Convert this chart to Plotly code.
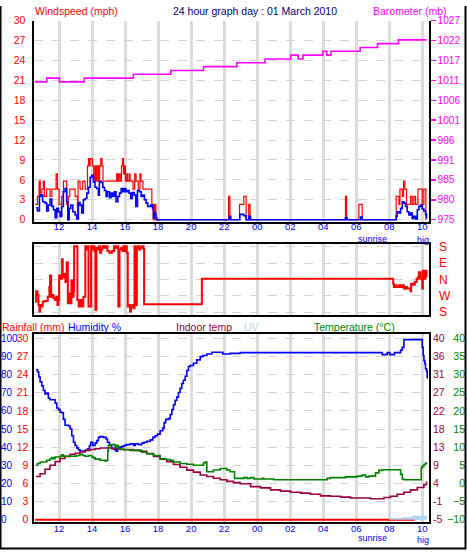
import plotly.graph_objects as go

W, H = 467, 559

# ---------------- data ----------------
hour_ticks = [12, 14, 16, 18, 20, 22, 24, 26, 28, 30, 32, 34]
hour_labels = ["12", "14", "16", "18", "20", "22", "00", "02", "04", "06", "08", "10"]

wind_ticks = [0, 3, 6, 9, 12, 15, 18, 21, 24, 27, 30]
baro_ticks = [975, 980.2, 985.4, 990.6, 995.8, 1001, 1006.2, 1011.4, 1016.6, 1021.8, 1027]
baro_labels = ["975", "980", "985", "991", "996", "1001", "1006", "1011", "1017", "1022", "1027"]
dir_ticks = [0, 90, 180, 270, 360]
dir_labels = ["S", "W", "N", "E", "S"]
rain_ticks = [0, 3, 6, 9, 12, 15, 18, 21, 24, 27, 30]
hum_ticks = [0, 10, 20, 30, 40, 50, 60, 70, 80, 90, 100]
indoor_ticks = [-5, -0.5, 4, 8.5, 13, 17.5, 22, 26.5, 31, 35.5, 40]
indoor_labels = ["-5", "-1", "4", "9", "13", "18", "22", "27", "31", "36", "40"]
temp_ticks = [-10, -5, 0, 5, 10, 15, 20, 25, 30, 35, 40]

# wind gust (mph)
gust_h = [10.55, 10.69, 10.79, 10.86, 10.95, 11.05, 11.11, 11.25, 11.45, 11.56, 11.82, 11.90, 12.00, 12.16,
          12.26, 12.46, 12.52, 12.57, 12.65, 12.97, 13.11, 13.15, 13.27, 13.43, 13.58, 13.72, 13.78, 13.84,
          13.88, 14.02, 14.10, 14.18, 14.24, 14.30, 14.38, 14.46, 14.52, 14.60, 14.66, 15.49, 15.55, 15.62,
          15.70, 15.78, 15.84, 15.90, 15.96, 16.02, 16.10, 16.14, 16.24, 16.30, 16.48, 16.58, 16.66, 16.80,
          16.90, 16.96, 17.08, 17.62, 17.70, 17.72, 17.78, 17.80, 17.86, 22.27, 22.35, 22.93, 23.19, 23.33,
          23.49, 23.57, 29.35, 29.42, 30.16, 30.36, 32.42, 32.59, 32.65, 32.79, 32.87, 32.95, 33.05, 33.30,
          33.40, 33.50, 33.60, 33.74, 34.00, 34.10, 34.22, 34.26]
gust_v = [2.3, 3.5, 5.8, 3.5, 4.6, 5.8, 3.5, 4.6, 3.5, 4.6, 6.9, 4.6, 2.3, 3.5,
          5.8, 2.3, 0.0, 3.5, 4.6, 3.5, 0.3, 5.8, 4.6, 5.8, 4.6, 8.1, 9.2, 8.1,
          9.2, 8.1, 5.8, 8.1, 5.8, 8.1, 5.8, 8.1, 9.2, 8.1, 5.8, 6.9, 5.8, 6.9,
          5.8, 8.1, 9.2, 6.9, 8.1, 5.8, 6.9, 5.8, 6.9, 5.8, 4.6, 6.9, 5.8, 4.6,
          6.9, 5.8, 4.6, 2.3, 0.0, 2.3, 0.0, 2.3, 0.0, 3.5, 0.0, 2.3, 3.5, 0.0,
          2.3, 0.0, 3.5, 0.0, 2.3, 0.0, 3.5, 2.3, 4.6, 3.5, 5.8, 4.6, 2.3, 3.5,
          2.3, 3.5, 2.3, 4.6, 2.3, 4.6, 0.0, 0.0]

# average wind speed (mph)
avg_h = [10.61, 10.69, 10.81, 10.89, 11.01, 11.15, 11.25, 11.35, 11.45, 11.56, 11.66, 11.76, 11.86, 11.96,
         12.06, 12.16, 12.26, 12.36, 12.46, 12.53, 12.61, 12.71, 12.83, 12.97, 13.07, 13.17, 13.27, 13.37,
         13.47, 13.58, 13.68, 13.78, 13.88, 13.98, 14.08, 14.18, 14.28, 14.38, 14.44, 14.55, 14.65, 14.75,
         14.85, 14.93, 15.05, 15.15, 15.25, 15.35, 15.45, 15.56, 15.66, 15.76, 15.86, 15.94, 16.04, 16.14,
         16.24, 16.34, 16.44, 16.55, 16.65, 16.75, 16.87, 16.97, 17.07, 17.17, 17.27, 17.37, 17.47, 17.56,
         17.66, 17.72, 17.78, 17.86, 17.92, 22.26, 22.32, 22.40, 22.95, 23.19, 23.33, 23.49, 23.60, 29.35,
         29.45, 30.26, 30.36, 32.42, 32.48, 32.59, 32.69, 32.79, 32.89, 32.99, 33.09, 33.19, 33.29, 33.39,
         33.49, 33.60, 33.70, 33.80, 33.90, 34.00, 34.10, 34.20, 34.26]
avg_v = [1.8, 1.3, 3.5, 3.7, 2.7, 2.5, 1.3, 2.2, 3.1, 2.0, 1.5, 0.3, 1.7, 1.2,
         0.5, 2.0, 4.2, 4.7, 2.7, 0.0, 1.7, 2.2, 1.2, 0.7, 0.1, 2.6, 2.2, 1.0,
         3.0, 3.2, 4.0, 4.9, 6.4, 6.7, 5.7, 4.9, 4.7, 3.7, 5.8, 5.6, 4.9, 4.4,
         3.5, 4.2, 3.3, 4.0, 3.5, 4.2, 2.7, 3.5, 4.0, 4.7, 4.2, 4.7, 4.2, 4.4,
         4.0, 3.2, 4.1, 3.7, 2.0, 4.4, 4.2, 3.5, 3.7, 3.0, 2.5, 2.0, 2.0, 2.2,
         1.7, 0.3, 1.0, 0.3, 0.0, 0.0, 0.5, 0.0, 0.8, 0.6, 0.0, 0.5, 0.0, 0.3,
         0.0, 0.4, 0.0, 0.5, 1.2, 1.0, 1.7, 2.7, 2.5, 2.0, 1.2, 0.7, 1.0, 0.2,
         0.5, 0.1, 1.5, 2.0, 2.2, 1.6, 1.3, 0.8, 0.2]

# barometer (mb)
baro_h = [10.55, 11.25, 12.02, 13.53, 16.5, 18.77, 20.75, 22.77, 24.48, 26.04, 26.48, 26.77, 27.98, 28.22,
          28.47, 30.24, 31.29, 32.56, 34.26]
baro_v = [1011, 1012, 1011, 1012, 1013, 1014, 1015, 1016, 1017, 1018, 1017, 1018, 1019, 1018,
          1019, 1020, 1021, 1022, 1022]

# wind direction (0 = S bottom, 90 = W, 180 = N, 270 = E, 360 = S top)
dir_h = [10.55, 10.61, 10.69, 10.75, 10.81, 10.85, 10.91, 11.01, 11.11, 11.21,
         11.31, 11.41, 11.45, 11.52, 11.60, 11.66, 11.76, 11.82, 11.90, 11.96,
         12.00, 12.06, 12.12, 12.18, 12.22, 12.30, 12.38, 12.46, 12.53, 12.59,
         12.67, 12.75, 12.83, 12.87, 12.91, 13.03, 13.11, 13.19, 13.27, 13.37,
         13.47, 13.59, 13.68, 13.72, 13.78, 13.88, 13.94, 14.00, 14.08, 14.14,
         14.20, 14.26, 14.34, 14.42, 14.48, 14.55, 14.63, 14.73, 14.85, 14.93,
         15.05, 15.21, 15.33, 15.45, 15.49, 15.59, 15.66, 15.76, 15.84, 15.90,
         15.98, 16.06, 16.10, 16.16, 16.22, 16.30, 16.36, 16.44, 16.51, 16.57,
         16.63, 16.71, 16.77, 16.85, 16.91, 17.01, 17.11, 17.15, 20.65, 32.18,
         32.24, 32.28, 32.32, 32.44, 32.59, 32.69, 32.79, 32.89, 32.99, 33.09,
         33.29, 33.33, 33.45, 33.55, 33.66, 33.74, 33.80, 33.90, 34.00, 34.04,
         34.10, 34.16, 34.20, 34.26]
dir_v = [58, 115, 94, 40, 4, 40, 31, 58, 61, 61,
         85, 139, 202, 85, 94, 76, 67, 85, 40, 67,
         202, 193, 184, 292, 193, 211, 166, 274, 49, 103,
         49, 175, 85, 112, 364, 364, 67, 31, 67, 31,
         85, 364, 346, 364, 31, 31, 364, 346, 364, 337,
         13, 355, 346, 364, 328, 346, 364, 355, 364, 337,
         328, 337, 364, 355, 364, 31, 346, 355, 337, 364,
         337, 364, 328, 31, 40, 4, 31, 40, 22, 364,
         40, 355, 364, 346, 355, 364, 349, 43, 184, 184,
         157, 139, 148, 139, 148, 139, 148, 130, 139, 130,
         115, 157, 151, 166, 184, 193, 220, 184, 130, 229,
         220, 184, 229, 193]

# humidity (%)
hum_h = [10.61, 10.69, 10.77, 10.85, 10.95, 11.05, 11.15, 11.25, 11.35, 11.45, 11.66, 11.76, 11.86, 11.96,
         12.06, 12.16, 12.26, 12.36, 12.57, 12.67, 12.77, 12.87, 12.97, 13.07, 13.17, 13.27, 13.43, 13.58,
         13.72, 13.84, 13.92, 14.04, 14.18, 14.28, 14.38, 14.48, 14.69, 14.85, 14.93, 15.05, 15.19, 15.35,
         15.45, 15.54, 15.66, 15.80, 15.94, 16.06, 16.30, 16.51, 16.61, 16.81, 17.01, 17.15, 17.31, 17.52,
         17.68, 17.82, 17.96, 18.12, 18.28, 18.36, 18.46, 18.63, 18.73, 18.83, 18.93, 19.03, 19.13, 19.23,
         19.33, 19.43, 19.53, 19.64, 19.74, 19.84, 19.94, 20.14, 20.34, 20.55, 20.71, 20.95, 21.25, 21.76,
         21.92, 22.36, 22.97, 31.58, 31.88, 32.04, 32.32, 32.69, 32.79, 32.89, 33.94, 34.00, 34.06, 34.10,
         34.16, 34.20, 34.26, 34.30]
hum_v = [82.7, 81.4, 78.7, 76.0, 73.7, 71.2, 69.4, 69.8, 67.0, 66.1, 66.1, 64.3, 61.6, 60.7,
         59.3, 59.0, 55.3, 52.1, 51.7, 50.0, 46.3, 42.7, 40.9, 39.6, 38.6, 37.8, 37.8, 38.2,
         39.1, 40.9, 42.7, 40.9, 42.2, 43.6, 45.4, 45.8, 45.4, 44.5, 42.7, 40.9, 39.1, 38.6,
         37.8, 39.1, 40.0, 40.4, 40.9, 41.4, 41.8, 40.9, 41.8, 41.4, 42.2, 42.7, 43.2, 44.0,
         45.4, 46.3, 47.2, 49.0, 50.5, 53.5, 55.3, 55.7, 58.0, 60.7, 63.4, 65.8, 67.6, 70.1,
         72.4, 75.1, 76.9, 79.1, 82.3, 84.5, 85.0, 86.3, 88.1, 89.9, 90.5, 91.4, 92.3, 92.3,
         91.4, 91.7, 92.1, 91.0, 92.1, 91.0, 92.1, 93.5, 95.0, 99.3, 99.3, 95.0, 90.5, 87.7,
         86.0, 83.2, 82.0, 77.8]

# outdoor temperature (degC)
temp_h = [10.61, 10.69, 10.85, 11.25, 11.45, 11.56, 11.66, 11.76, 12.06, 12.16, 12.26, 13.07, 13.27, 13.43,
          13.58, 13.78, 13.98, 14.08, 14.18, 14.48, 14.79, 14.89, 14.95, 14.99, 15.13, 15.39, 15.49, 15.59,
          15.90, 16.30, 17.01, 17.31, 17.72, 18.12, 18.42, 18.73, 18.93, 19.33, 19.74, 20.14, 20.75, 20.85,
          20.95, 21.35, 21.76, 22.16, 22.36, 22.63, 23.19, 23.39, 23.60, 23.80, 24.30, 24.40, 25.01, 28.24,
          28.44, 29.35, 30.06, 30.36, 30.57, 30.77, 31.17, 31.37, 31.58, 32.69, 32.79, 32.89, 33.94, 34.00,
          34.10, 34.20, 34.26]
temp_v = [5.0, 5.5, 5.9, 6.4, 6.8, 7.1, 6.8, 7.3, 7.5, 7.9, 7.5, 7.7, 8.0, 7.7,
          7.5, 7.7, 7.3, 7.1, 6.7, 6.4, 6.2, 6.4, 9.1, 10.5, 10.7, 10.0, 10.5, 9.5,
          9.3, 9.1, 8.6, 8.2, 7.7, 6.8, 6.6, 6.4, 5.9, 5.5, 5.3, 5.0, 5.7, 5.9,
          3.2, 3.7, 4.1, 3.7, 3.2, 1.4, 1.6, 1.4, 1.6, 1.2, 1.4, 1.2, 1.0, 1.4,
          1.6, 1.8, 2.0, 2.3, 1.8, 2.0, 2.9, 3.6, 3.75, 2.5, 1.2, 1.0, 4.3, 4.7,
          5.2, 5.6, 5.8]

# indoor temperature (degC)
indoor_h = [10.61, 10.85, 11.15, 11.45, 11.76, 12.06, 12.36, 12.67, 12.97, 13.27, 13.58, 13.88, 14.18, 14.48,
            14.89, 15.29, 15.70, 16.10, 16.51, 16.91, 17.31, 17.72, 18.12, 18.53, 18.93, 19.33, 19.74, 20.14,
            20.55, 20.95, 21.35, 21.76, 22.16, 22.57, 22.97, 23.60, 24.20, 24.81, 25.41, 26.02, 26.63, 27.23,
            27.84, 28.44, 29.05, 29.66, 30.87, 31.27, 31.68, 32.08, 32.48, 32.89, 33.29, 33.70, 34.10, 34.26]
indoor_v = [5.7, 6.4, 7.5, 8.5, 9.4, 10.2, 10.7, 11.2, 11.5, 11.8, 12.2, 12.4, 12.6, 12.8,
            12.8, 12.6, 12.4, 12.4, 12.2, 12.0, 11.4, 10.7, 10.0, 9.4, 8.7, 8.0, 7.3, 6.8,
            6.1, 5.7, 5.3, 4.9, 4.5, 4.2, 3.9, 3.2, 2.9, 2.4, 2.1, 1.8, 1.6, 1.3,
            0.9, 0.8, 0.6, 0.4, 0.2, 0.2, 0.5, 0.8, 1.3, 1.8, 2.4, 3.0, 3.7, 4.5]

# rainfall (mm)
rain_h = [10.55, 33.48, 34.26]
rain_v = [0.0, 0.4, 0.4]

# UV index
uv_h = [32.0, 32.8, 33.4, 34.26]
uv_v = [0.1, 0.2, 0.3, 0.3]

for a, b in [(gust_h, gust_v), (avg_h, avg_v), (baro_h, baro_v), (dir_h, dir_v), (hum_h, hum_v),
             (temp_h, temp_v), (indoor_h, indoor_v), (rain_h, rain_v), (uv_h, uv_v)]:
    assert len(a) == len(b), (len(a), len(b))

# ---------------- layout helpers ----------------
def px(x):
    return x / W

def py(y):
    return 1 - y / H

FONT = "Liberation Sans, Arial, sans-serif"
RED = "#ff0000"
BLUE = "#0000ff"
MAG = "#ff00ff"
NAVY = "#000080"
MAROON = "#990040"
GREEN = "#008000"
UVC = "#b4d4f4"
GRID = "#dcdcdc"
DGRID = "#d4d4d4"

fig = go.Figure()

# panel 1
fig.add_trace(go.Scatter(x=gust_h, y=gust_v, xaxis="x", yaxis="y", mode="lines",
                         line=dict(color=RED, width=1.2, shape="hv")))
fig.add_trace(go.Scatter(x=avg_h, y=avg_v, xaxis="x", yaxis="y", mode="lines",
                         line=dict(color=BLUE, width=1.6, shape="hv")))
fig.add_trace(go.Scatter(x=baro_h, y=baro_v, xaxis="x", yaxis="y2", mode="lines",
                         line=dict(color=MAG, width=1.6, shape="hv")))
# panel 2
fig.add_trace(go.Scatter(x=dir_h, y=dir_v, xaxis="x2", yaxis="y3", mode="lines",
                         line=dict(color=RED, width=2, shape="hv")))
# panel 3
fig.add_trace(go.Scatter(x=uv_h, y=uv_v, xaxis="x3", yaxis="y8", mode="lines", fill="tozeroy",
                         fillcolor=UVC, line=dict(color=UVC, width=0.5, shape="hv")))
fig.add_trace(go.Scatter(x=rain_h, y=rain_v, xaxis="x3", yaxis="y4", mode="lines",
                         line=dict(color=RED, width=2, shape="hv")))
fig.add_trace(go.Scatter(x=indoor_h, y=indoor_v, xaxis="x3", yaxis="y6", mode="lines",
                         line=dict(color=MAROON, width=1.6, shape="hv")))
fig.add_trace(go.Scatter(x=temp_h, y=temp_v, xaxis="x3", yaxis="y7", mode="lines",
                         line=dict(color=GREEN, width=1.6, shape="hv")))
fig.add_trace(go.Scatter(x=hum_h, y=hum_v, xaxis="x3", yaxis="y5", mode="lines",
                         line=dict(color=BLUE, width=1.6, shape="hv")))

xdom = [px(33.5), px(428.5)]
xcommon = dict(range=[10.45, 34.38], domain=xdom, tickvals=hour_ticks, ticktext=hour_labels,
               showgrid=True, gridcolor=GRID, gridwidth=3, zeroline=False, ticks="",
               tickfont=dict(color=BLUE, size=9.5, family=FONT),
               showline=True, linecolor="black", linewidth=2, fixedrange=True)

ycommon = dict(zeroline=False, ticks="", fixedrange=True, showgrid=False)
dgrid = dict(showgrid=True, gridcolor=DGRID, griddash="dash", gridwidth=1)

# panel 3 vertical geometry: humidity 0 at y=524, 100 at y=339
p3_bot, p3_top = 526, 335
hum_per_px = 100 / (524 - 339)
hum_lo = -(p3_bot - 524) * hum_per_px
hum_hi = 100 + (339 - p3_top) * hum_per_px

layout = dict(
    width=W, height=H, margin=dict(l=0, r=0, t=0, b=0),
    paper_bgcolor="white", plot_bgcolor="white", showlegend=False,
    font=dict(family=FONT),
    xaxis=dict(xcommon, anchor="y", ticklabelstandoff=-5),
    xaxis2=dict(xcommon, anchor="y3", showticklabels=False, mirror=True),
    xaxis3=dict(xcommon, anchor="y4", mirror=True, ticklabelstandoff=-3),
    yaxis=dict(ycommon, **dgrid, domain=[py(220), py(15)], anchor="x", range=[-0.3, 30],
               tickvals=wind_ticks, tickfont=dict(color=RED, size=10.5),
               showline=True, linecolor="black", linewidth=2, ticklabelstandoff=4),
    yaxis2=dict(ycommon, overlaying="y", side="right", anchor="x",
                range=[975 - 0.3 * 52 / 30, 1027], tickvals=baro_ticks, ticktext=baro_labels,
                tickfont=dict(color=MAG, size=10.2),
                ticks="outside", ticklen=5, tickwidth=1.5, tickcolor=MAG,
                showline=True, linecolor="black", linewidth=2),
    yaxis3=dict(ycommon, **dgrid, domain=[py(315), py(243)], anchor="x2", side="right",
                range=[-14.6, 374.6], tickvals=dir_ticks, ticktext=dir_labels,
                tickfont=dict(color=RED, size=12), showline=True, mirror=True,
                linecolor="black", linewidth=2, ticklabelstandoff=6),
    yaxis4=dict(ycommon, **dgrid, domain=[py(p3_bot), py(p3_top)], anchor="x3", side="left",
                range=[hum_lo * 0.3, hum_hi * 0.3], tickvals=rain_ticks,
                tickfont=dict(color=RED, size=10.5), showline=True, mirror=True,
                linecolor="black", linewidth=2, ticklabelstandoff=1),
    yaxis5=dict(ycommon, overlaying="y4", anchor="free", position=0.0, side="right",
                range=[hum_lo, hum_hi], tickvals=hum_ticks, tickfont=dict(color=BLUE, size=10),
                showline=False),
    yaxis6=dict(ycommon, overlaying="y4", anchor="free", position=px(432), side="right",
                range=[-5 + hum_lo * 0.45, -5 + hum_hi * 0.45], tickvals=indoor_ticks,
                ticktext=indoor_labels, tickfont=dict(color=MAROON, size=10.5), showline=False),
    yaxis7=dict(ycommon, overlaying="y4", anchor="free", position=px(465), side="left",
                range=[-10 + hum_lo * 0.5, -10 + hum_hi * 0.5], tickvals=temp_ticks,
                tickfont=dict(color=GREEN, size=10.5), showline=False),
    yaxis8=dict(ycommon, overlaying="y4", anchor="x3", side="left", visible=False,
                range=[hum_lo * 0.15, hum_hi * 0.15]),
)
fig.update_layout(**layout)

def label(text, x, y, color, size=10.5, anchor="left"):
    fig.add_annotation(text=text, x=px(x), y=py(y), xref="paper", yref="paper",
                       xanchor=anchor, yanchor="middle", showarrow=False,
                       font=dict(color=color, size=size, family=FONT))

label("Windspeed (mph)", 33, 5.5, RED)
label("24 hour graph day : 01 March 2010", 171, 5.5, NAVY)
label("Barometer (mb)", 371, 5.5, MAG)
label("Rainfall (mm)", 0, 327, RED)
label("Humidity %", 66, 327, BLUE)
label("Indoor temp", 174, 327, MAROON)
label("UV", 242, 327, UVC)
label("Temperature (°C)", 312, 327, GREEN)
label("sunrise", 372.5, 238, BLUE, size=9, anchor="center")
label("hig", 415, 239, BLUE, size=9)
label("sunrise", 372.5, 543, BLUE, size=9, anchor="center")
label("hig", 415, 545, BLUE, size=9)

# outer frame
for x0, y0, x1, y1 in [(0.5, 0, 0.5, 554), (465.5, 0, 465.5, 554), (0, 553.5, 466, 553.5)]:
    fig.add_shape(type="line", xref="paper", yref="paper", x0=px(x0), y0=py(y0), x1=px(x1), y1=py(y1),
                  line=dict(color="black", width=2))

fig.write_html("out.html", config={"displayModeBar": False, "staticPlot": True},
               post_script="document.body.style.margin='0';document.body.style.overflow='hidden';")
